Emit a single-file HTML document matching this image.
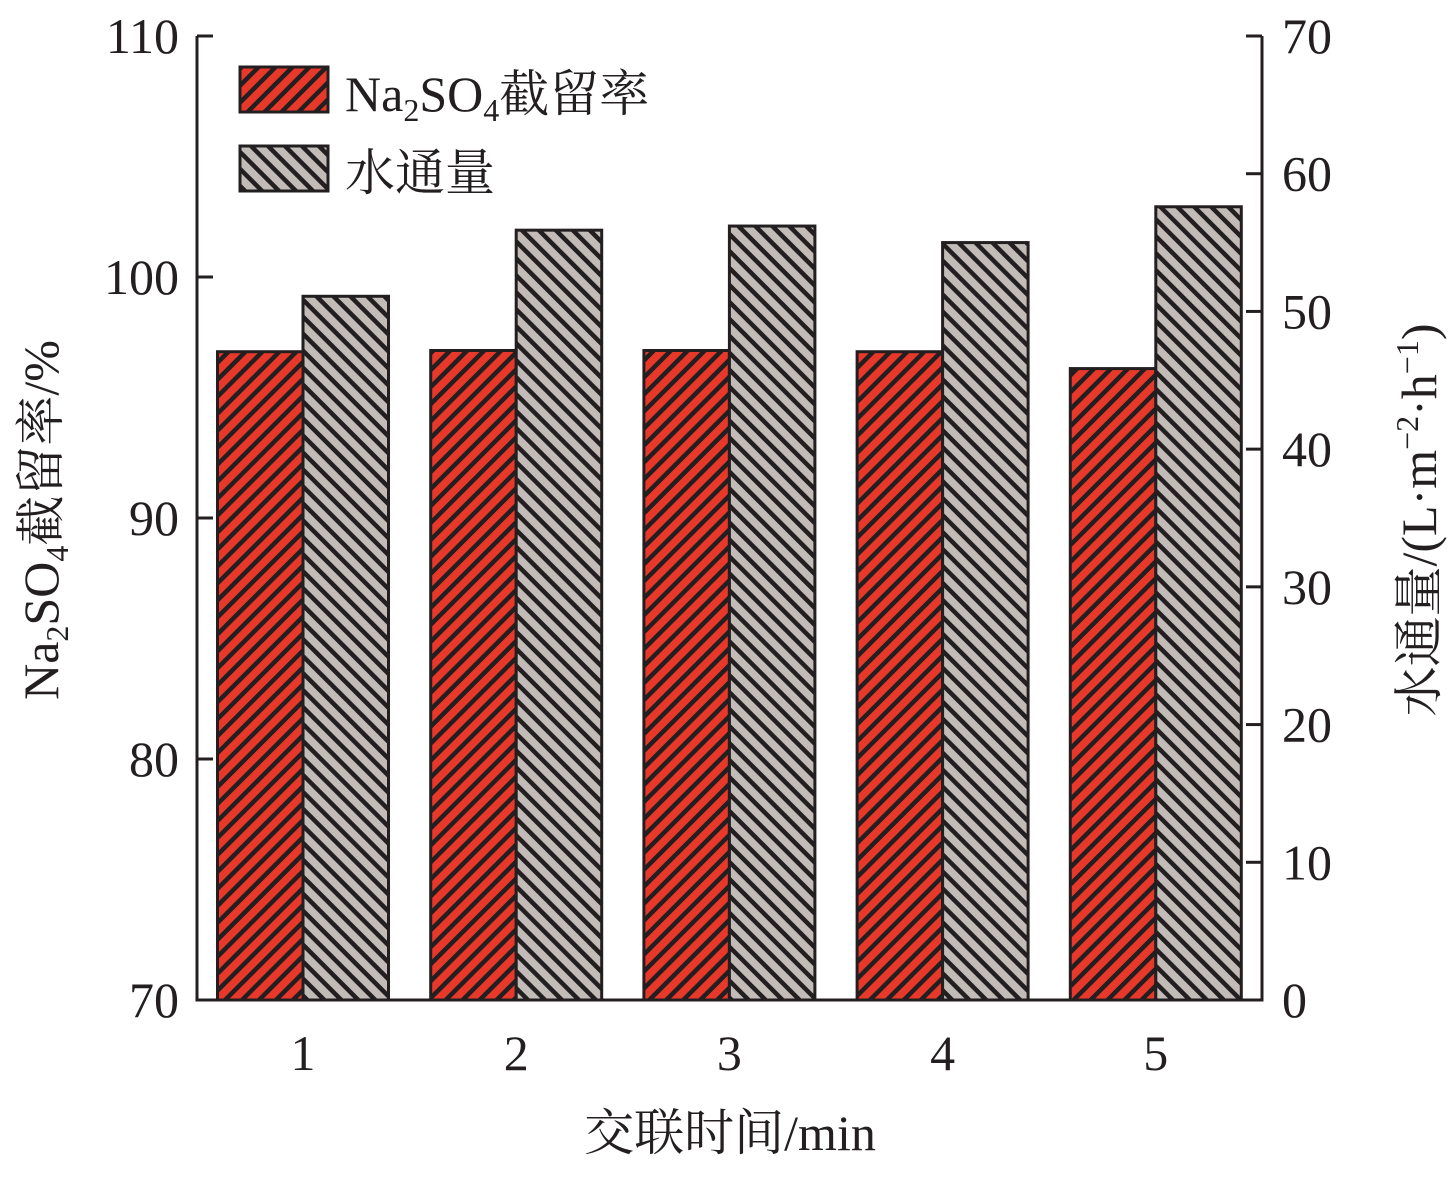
<!DOCTYPE html>
<html><head><meta charset="utf-8"><style>
body{margin:0;background:#fff}
svg text{font-family:"Liberation Serif","Noto Serif CJK SC","Noto Sans CJK SC",serif;fill:#231f20}
</style></head><body>
<svg width="1454" height="1173" viewBox="0 0 1454 1173">
<defs>
<pattern id="hr" width="12" height="12" patternUnits="userSpaceOnUse" patternTransform="rotate(45)">
<rect width="12" height="12" fill="#e8382a"/><rect width="4.5" height="12" fill="#231f20"/></pattern>
<pattern id="hg" width="12" height="12" patternUnits="userSpaceOnUse" patternTransform="rotate(-45)">
<rect width="12" height="12" fill="#c2bbb8"/><rect width="4.5" height="12" fill="#231f20"/></pattern>
</defs>
<g id="bars"></g>
<g id="axes" stroke="#231f20" stroke-width="3" fill="none"></g>
<g id="labels"></g>
<rect x="240" y="67" width="88" height="45" fill="url(#hr)" stroke="#231f20" stroke-width="3"/>
<text x="345" y="111" font-size="50">Na<tspan font-size="32" dy="10">2</tspan><tspan dy="-10">SO</tspan><tspan font-size="32" dy="10">4</tspan><tspan dy="-10">截留率</tspan></text>
<rect x="240" y="146" width="88" height="45" fill="url(#hg)" stroke="#231f20" stroke-width="3"/>
<text x="345" y="190" font-size="50">水通量</text>
<text x="730" y="1150" font-size="50" text-anchor="middle">交联时间/min</text>
<text transform="translate(58,520) rotate(-90)" font-size="50" text-anchor="middle">Na<tspan font-size="32" dy="10">2</tspan><tspan dy="-10">SO</tspan><tspan font-size="32" dy="10">4</tspan><tspan dy="-10">截留率/%</tspan></text>
<text transform="translate(1436,520) rotate(-90)" font-size="50" text-anchor="middle">水通量/(L·m<tspan font-size="32" dy="-18">−2</tspan><tspan dy="18">·h</tspan><tspan font-size="32" dy="-18">−1</tspan><tspan dy="18">)</tspan></text>
</svg>
<script>
const categories=["1","2","3","4","5"];
const rejection=[96.9,96.95,96.95,96.9,96.2];
const flux=[51.1,55.9,56.2,55.0,57.6];
const leftTicks=[70,80,90,100,110];
const rightTicks=[0,10,20,30,40,50,60,70];
const NS="http://www.w3.org/2000/svg";
const X0=197,X1=1262,Y0=1000,Y1=36;
const yL=v=>Y0-(v-70)/40*(Y0-Y1);
const yR=v=>Y0-v/70*(Y0-Y1);
const cx=i=>303+i*213.2;
const BW=85.5;
function mk(tag,attrs,parent){const e=document.createElementNS(NS,tag);for(const k in attrs)e.setAttribute(k,attrs[k]);parent.appendChild(e);return e;}
const bars=document.getElementById('bars'),axes=document.getElementById('axes'),labels=document.getElementById('labels');
categories.forEach((c,i)=>{
  const r=mk('rect',{x:cx(i)-BW,y:yL(rejection[i]),width:BW,height:Y0-yL(rejection[i]),fill:'url(#hr)',stroke:'#231f20','stroke-width':3},bars);
  
  
  const g=mk('rect',{x:cx(i),y:yR(flux[i]),width:BW,height:Y0-yR(flux[i]),fill:'url(#hg)',stroke:'#231f20','stroke-width':3},bars);
  
  
  const t=mk('text',{x:cx(i),y:1070,'font-size':50,'text-anchor':'middle'},labels);t.textContent=c;
  
  
});
mk('path',{d:`M${X0} ${Y1}V${Y0}H${X1}V${Y1}`},axes);
leftTicks.forEach(v=>{
  mk('line',{x1:X0,x2:X0+16,y1:yL(v),y2:yL(v)},axes);
  const t=mk('text',{x:X0-18,y:yL(v)+17,'font-size':50,'text-anchor':'end'},labels);t.textContent=v;
  
  
});
rightTicks.forEach(v=>{
  mk('line',{x1:X1,x2:X1-16,y1:yR(v),y2:yR(v)},axes);
  const t=mk('text',{x:X1+20,y:yR(v)+17,'font-size':50},labels);t.textContent=v;
  
  
});
</script>
</body></html>
